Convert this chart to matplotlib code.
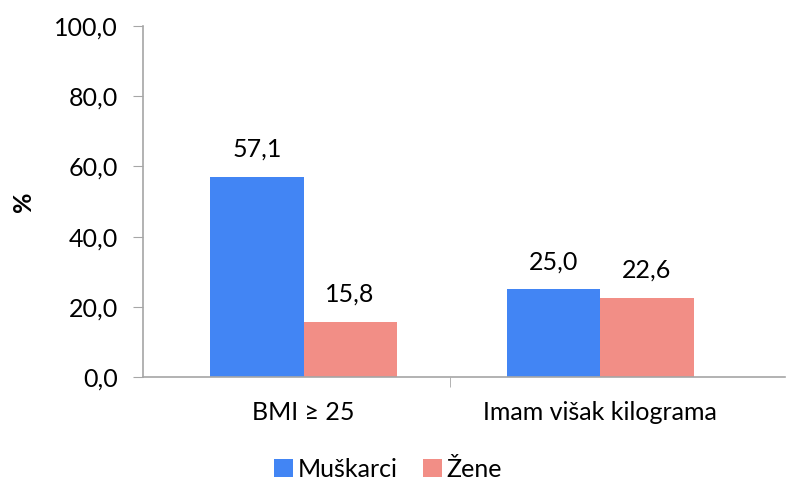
import numpy as np
import matplotlib.pyplot as plt

plt.rcParams['font.family'] = ['Lato', 'DejaVu Sans']

categories = ["BMI ≥ 25", "Imam višak kilograma"]
muskarci = [57.1, 25.0]
zene = [15.8, 22.6]
series_names = ["Muškarci", "Žene"]
colors = ["#4285F4", "#F28E86"]
yticks = [0, 20, 40, 60, 80, 100]

fig = plt.figure(figsize=(7.86, 4.84), dpi=100)
ax = fig.add_axes([143 / 786, 1 - 377 / 484, 642 / 786, 351 / 484])

# group centres, matching the original layout
x = np.array([0.0, 0.925])
w = 0.29
b1 = ax.bar(x - w / 2, muskarci, w, color=colors[0], label=series_names[0])
b2 = ax.bar(x + w / 2, zene, w, color=colors[1], label=series_names[1])

for bars in (b1, b2):
    for r in bars:
        h = r.get_height()
        ax.text(r.get_x() + r.get_width() / 2, h + 4.5, f"{h:.1f}".replace(".", ","),
                ha="center", va="bottom", fontsize=18)

ax.set_xlim(-0.5, 1.5)
ax.set_ylim(0, 100)
ax.set_yticks(yticks)
ax.set_yticklabels([f"{v:.1f}".replace(".", ",") for v in yticks], fontsize=18)
ax.set_xticks(x)
ax.set_xticklabels(categories, fontsize=18)
ax.tick_params(axis="x", length=0, pad=17)
ax.set_xticks([0.456], minor=True)
ax.tick_params(axis="x", which="minor", length=7, color="#a6a6a6")
ax.tick_params(axis="y", length=7, color="#a6a6a6", pad=11)

for s in ("top", "right"):
    ax.spines[s].set_visible(False)
for s in ("left", "bottom"):
    ax.spines[s].set_color("#a6a6a6")
    ax.spines[s].set_linewidth(1.2)

ax.set_ylabel("%", fontsize=18, fontweight="bold", labelpad=14)

ax.legend(loc="center", bbox_to_anchor=(0.382, -0.263), ncol=2, frameon=False,
          fontsize=18, handlelength=0.75, handleheight=0.75, handletextpad=0.2,
          columnspacing=1.0, borderaxespad=0)

fig.savefig("out.png", dpi=100)
